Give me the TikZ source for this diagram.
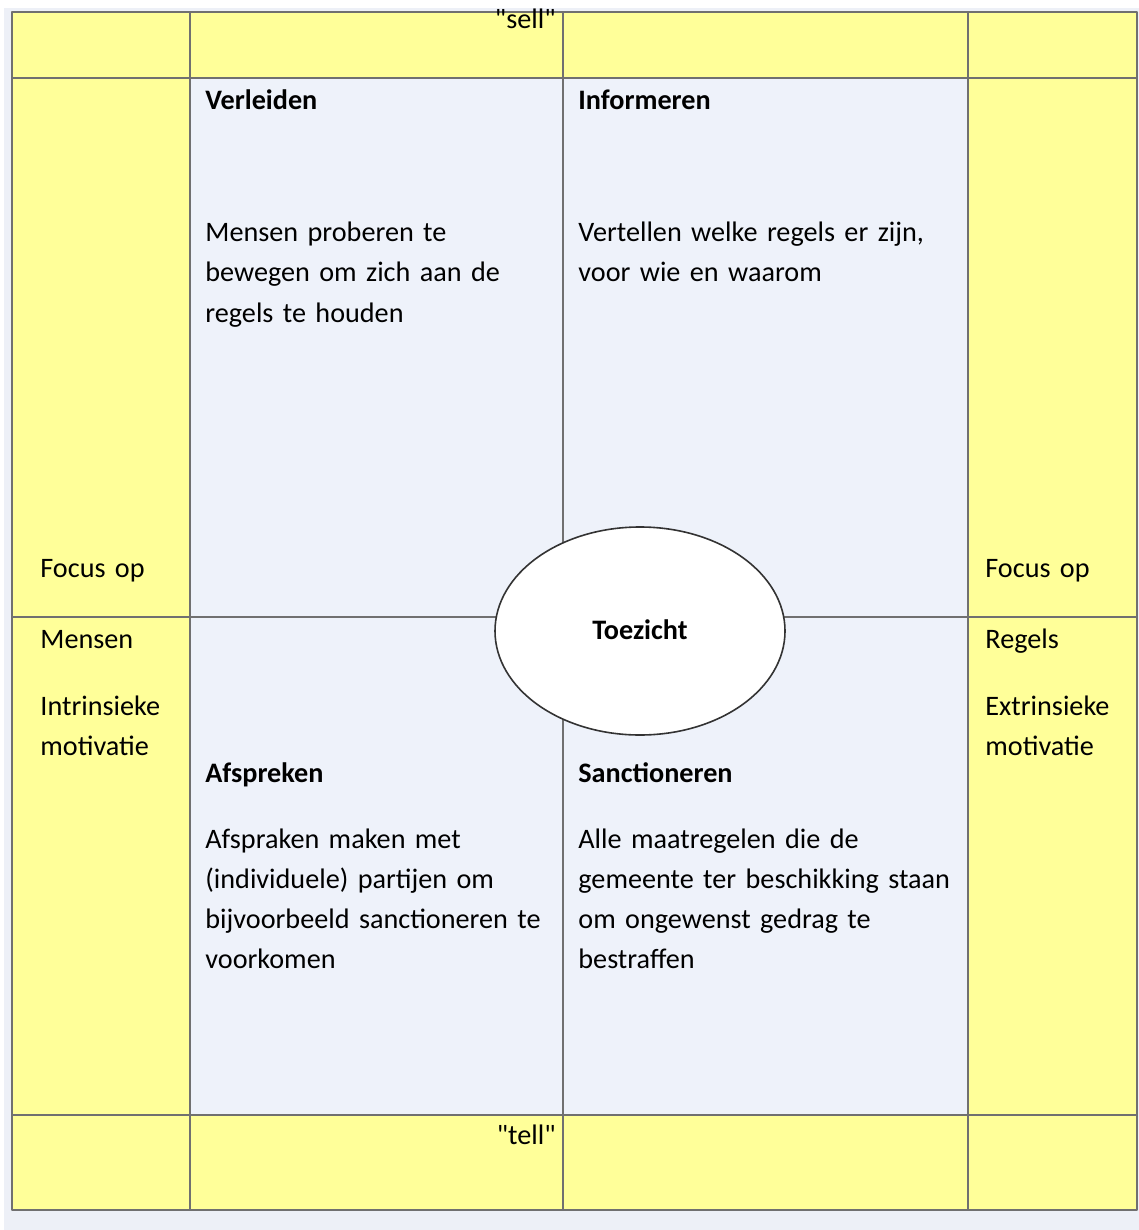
\documentclass[tikz,border=0pt]{standalone}
\usepackage{fontspec}
\setmainfont{Carlito}[Ligatures=TeXOff]
\definecolor{geel}{HTML}{FFFF99}
\definecolor{vakblauw}{HTML}{EEF2FA}
\definecolor{achtergrond}{HTML}{EDF0F7}
\definecolor{lijn}{HTML}{707070}
\begin{document}
\begin{tikzpicture}[x=.5pt,y=-.5pt,line join=round,font=\fontsize{14.1}{20}\selectfont,
	kop/.style={anchor=base west,inner sep=0pt,font=\fontsize{14.1}{20}\selectfont\bfseries},
	tekst/.style={anchor=base west,inner sep=0pt,text width=200pt,align=left}]
				% kolommen en rijen
				\def\xa{12}
				\def\xb{190}
				\def\xc{563}
				\def\xd{968}
				\def\xe{1137}
				\def\ya{12}
				\def\yb{78}
				\def\ym{617}
				\def\yc{1115}
				\def\yd{1210}
				\useasboundingbox (0,0) rectangle (1139,1230);
				\fill[achtergrond] (4,8) rectangle (1139,1230);
				\fill[geel] (\xa,\ya) rectangle (\xe,\yd);
				\fill[vakblauw] (\xb,\yb) rectangle (\xd,\yc);
				\draw[lijn,line width=.7pt]
				(\xa,\ya) rectangle (\xe,\yd)
				(\xa,\yb)--(\xe,\yb)
				(\xa,\yc)--(\xe,\yc)
				(\xa,\ym)--(\xe,\ym)
				(\xb,\ya)--(\xb,\yd)
				(\xc,\ya)--(\xc,\yd)
				(\xd,\ya)--(\xd,\yd)
				;
				\path
				(556,29) node[anchor=base east,inner sep=0pt] (sell) {"sell"}
				(556,1144) node[anchor=base east,inner sep=0pt] (tell) {"tell"}
				(40,577) node[tekst] (focusL) {Focus op}
				(40,648) node[tekst] (mensen) {Mensen}
				(40,715) node[tekst] (intrinsiek) {Intrinsieke\\motivatie}
				(985,577) node[tekst] (focusR) {Focus op}
				(985,648) node[tekst] (regels) {Regels}
				(985,715) node[tekst] (extrinsiek) {Extrinsieke\\motivatie}
				(205,110) node[kop] (verleiden) {Verleiden}
				(205,242) node[tekst] (verleidenT) {Mensen proberen te\\bewegen om zich aan de\\regels te houden}
				(578,110) node[kop] (informeren) {Informeren}
				(578,242) node[tekst] (informerenT) {Vertellen welke regels er zijn,\\voor wie en waarom}
				(205,782) node[kop] (afspreken) {Afspreken}
				(205,848) node[tekst] (afsprekenT) {Afspraken maken met\\(individuele) partijen om\\bijvoorbeeld sanctioneren te\\voorkomen}
				(578,782) node[kop] (sanctioneren) {Sanctioneren}
				(578,848) node[tekst] (sanctionerenT) {Alle maatregelen die de\\gemeente ter beschikking staan\\om ongewenst gedrag te\\bestraffen}
				;
				\draw[black!80,line width=.8pt,fill=white] (640,631) ellipse (145 and 104);
				\node[font=\fontsize{14.1}{20}\selectfont\bfseries] (toezicht) at (640,630) {Toezicht};
		\end{tikzpicture}
\end{document}
